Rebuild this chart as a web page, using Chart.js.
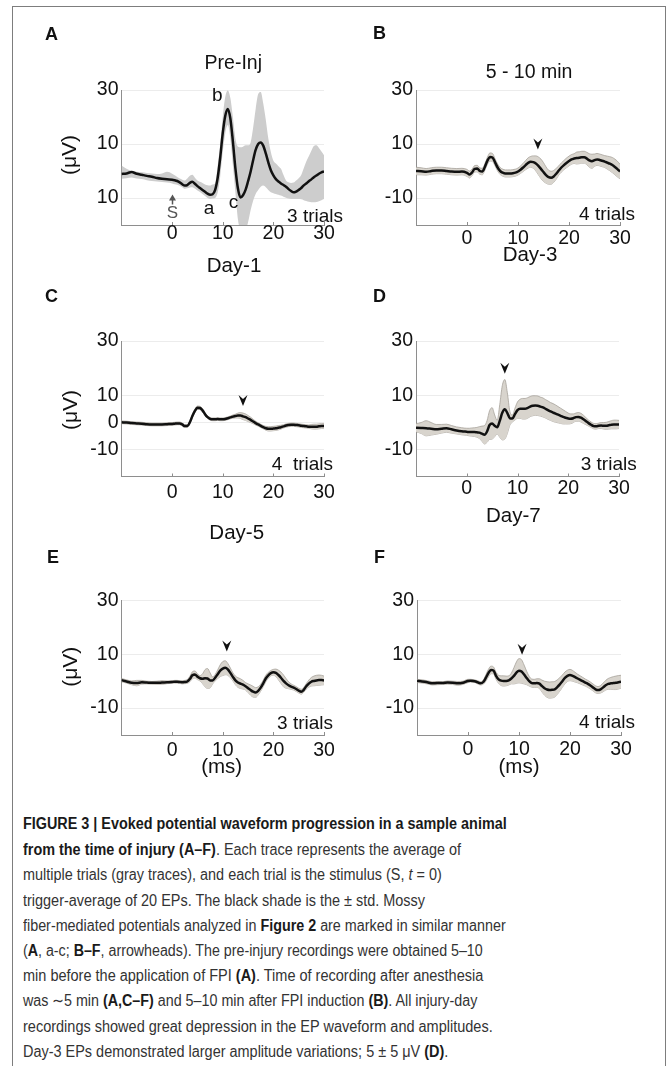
<!DOCTYPE html>
<html>
<head>
<meta charset="utf-8">
<script src="https://cdn.jsdelivr.net/npm/chart.js"></script>
<style>
body{margin:0;background:#fff;width:671px;height:1066px;overflow:hidden;position:relative}
#frame{position:absolute;left:12px;top:6px;width:654px;height:1075px;border:1.5px solid #7d7d7d;box-sizing:border-box}
canvas{position:absolute}
.cap{position:absolute;left:23px;white-space:nowrap;font-family:"Liberation Sans",Arial,sans-serif;font-size:16px;line-height:25px;color:#333;transform-origin:0 50%}
.cap b{color:#1a1a1a}
</style>
</head>
<body>
<div id="frame"></div>
<canvas id="cA"></canvas><canvas id="cB"></canvas>
<canvas id="cC"></canvas><canvas id="cD"></canvas>
<canvas id="cE"></canvas><canvas id="cF"></canvas>

<div class="cap" style="top:811px"><b>FIGURE 3 | Evoked potential waveform progression in a sample animal</b></div>
<div class="cap" style="top:837px"><b>from the time of injury (A–F)</b>. Each trace represents the average of</div>
<div class="cap" style="top:862px">multiple trials (gray traces), and each trial is the stimulus (S, <i>t</i> = 0)</div>
<div class="cap" style="top:888px">trigger-average of 20 EPs. The black shade is the ± std. Mossy</div>
<div class="cap" style="top:913px">fiber-mediated potentials analyzed in <b>Figure 2</b> are marked in similar manner</div>
<div class="cap" style="top:938px">(<b>A</b>, a-c; <b>B–F</b>, arrowheads). The pre-injury recordings were obtained 5–10</div>
<div class="cap" style="top:963px">min before the application of FPI <b>(A)</b>. Time of recording after anesthesia</div>
<div class="cap" style="top:988px">was ∼5 min <b>(A,C–F)</b> and 5–10 min after FPI induction <b>(B)</b>. All injury-day</div>
<div class="cap" style="top:1014px">recordings showed great depression in the EP waveform and amplitudes.</div>
<div class="cap" style="top:1039px">Day-3 EPs demonstrated larger amplitude variations; 5 ± 5 μV <b>(D)</b>.</div>

<script>
// time axis (ms), shared by all six traces
const times = [-10,-9,-8,-7,-6,-5,-4,-3,-2,-1,0,0.5,1,1.5,2,2.5,3,3.5,4,4.5,5,5.5,6,6.5,7,7.5,8,8.5,9,9.5,10,10.5,11,11.5,12,12.5,13,13.5,14,14.5,15,15.5,16,16.5,17,17.5,18,18.5,19,19.5,20,20.5,21,21.5,22,22.5,23,23.5,24,24.5,25,25.5,26,26.5,27,27.5,28,28.5,29,29.5,30];

// A: Pre-Inj, Day-1 (mean with upper / lower edge of the shade)
const meanA = [-1.1,-0.9,-0.4,-1.0,-1.4,-1.8,-2.1,-2.6,-2.9,-3.1,-3.2,
  -3.4,-3.7,-4.2,-4.9,-5.4,-5.2,-4.4,-4.0,-4.7,-5.6,-6.3,-7.0,-7.7,-8.4,-8.8,-8.6,
  -7.0,-2.5,5.0,14.0,20.5,23.0,19.5,11.0,1.0,-6.5,-9.8,
  -9.0,-7.0,-3.8,-0.3,4.0,7.8,10.0,10.6,9.4,6.5,3.2,0.3,
  -1.6,-3.0,-3.9,-4.6,-5.2,-5.8,-6.7,-7.4,-7.9,-7.6,-7.0,-6.3,-5.3,-4.6,-3.8,-3.1,-2.3,-1.7,-1.0,-0.5,-0.2];
const hiA = [2.0,0.8,0.0,-0.3,-0.5,-0.7,-0.9,-1.1,-0.9,-0.3,-1.0,
  -1.6,-2.2,-2.8,-3.2,-3.5,-2.8,-1.8,-1.4,-2.5,-3.5,-4.0,-4.4,-5.0,-5.3,-5.4,-5.0,
  -4.5,2.0,10.0,20.0,27.5,29.8,27.0,20.0,12.0,9.0,8.8,
  9.0,9.5,9.5,10.5,16.0,23.0,28.5,29.3,25.0,19.0,12.0,7.0,
  3.8,2.8,1.8,0.8,-1.5,-3.5,-4.2,-4.4,-4.3,-3.5,-2.7,-1.5,1.0,3.5,5.5,7.5,9.3,9.5,8.5,7.2,5.8];
const loA = [-2.9,-2.7,-2.4,-2.8,-3.0,-3.4,-3.7,-3.9,-4.1,-4.3,-4.6,
  -4.9,-5.1,-5.5,-6.0,-6.6,-6.4,-6.1,-6.0,-6.5,-7.2,-7.8,-8.5,-9.3,-10.0,-10.4,-10.2,
  -10.0,-8.0,-2.0,7.0,14.0,17.0,12.0,2.0,-8.0,-18.0,-22.0,
  -23.0,-22.0,-19.0,-14.5,-11.0,-8.5,-7.0,-5.8,-5.4,-6.0,-7.0,-7.9,
  -8.2,-8.5,-8.8,-9.1,-9.5,-9.9,-10.2,-10.4,-10.4,-10.4,-10.4,-10.5,-10.8,-11.1,-11.4,-11.6,-11.6,-11.5,-11.2,-10.8,-10.4];

// B-F: mean and std
const meanB = [0.0,-0.1,-0.3,0.0,0.2,0.2,0.0,-0.2,-0.3,-0.2,-0.7,
  -1.3,-0.5,0.8,0.9,0.0,-0.2,1.5,3.8,5.2,5.0,3.2,1.3,0.0,-0.6,-0.9,-0.9,
  -0.9,-0.8,-0.6,-0.2,0.5,1.3,2.2,3.0,3.4,3.3,2.8,
  1.9,0.8,-0.4,-1.5,-2.3,-2.5,-2.0,-1.0,0.2,1.3,2.2,3.0,
  3.7,4.3,4.6,4.8,4.9,5.1,5.1,4.6,3.9,3.6,4.0,4.3,4.1,3.8,3.5,3.1,2.7,2.2,1.5,0.7,-0.2];
const sdB = [1.4,1.3,1.2,1.2,1.2,1.2,1.2,1.2,1.2,1.2,1.3,
  1.3,1.2,1.2,1.2,1.2,1.2,1.2,1.3,1.5,1.5,1.3,1.3,1.3,1.3,1.3,1.3,
  1.3,1.3,1.3,1.3,1.4,1.5,1.7,1.9,2.0,2.3,2.8,
  3.3,3.6,3.5,3.0,2.6,2.4,2.2,2.0,1.7,1.7,1.7,1.8,
  1.8,1.8,1.8,2.2,2.2,2.2,2.2,2.3,2.5,2.6,2.3,2.2,2.2,2.2,2.2,2.4,2.6,2.8,2.9,2.9,2.7];

const meanC = [0.0,-0.1,-0.3,-0.4,-0.5,-0.7,-0.8,-0.8,-0.8,-0.7,-0.6,
  -0.5,-0.4,-0.4,-0.8,-1.4,-1.4,0.0,2.3,4.2,5.4,5.3,4.4,3.0,1.9,1.3,1.1,
  1.1,1.2,1.1,1.1,1.2,1.5,1.8,2.1,2.3,2.5,2.5,
  2.2,1.9,1.4,0.9,0.3,-0.3,-0.8,-1.3,-1.8,-2.2,-2.4,-2.4,
  -2.3,-2.2,-2.0,-1.8,-1.5,-1.2,-1.0,-0.9,-0.9,-1.0,-1.1,-1.3,-1.4,-1.5,-1.6,-1.6,-1.6,-1.6,-1.5,-1.4,-1.4];
const sdC = [0.5,0.5,0.5,0.5,0.5,0.5,0.5,0.5,0.5,0.5,0.5,
  0.5,0.5,0.5,0.5,0.5,0.5,0.6,0.6,0.6,0.6,0.6,0.6,0.5,0.5,0.5,0.5,
  0.5,0.5,0.5,0.5,0.5,0.5,0.5,0.6,0.7,0.9,1.1,
  1.2,1.2,1.1,1.0,0.8,0.7,0.6,0.6,0.6,0.7,0.8,0.8,
  0.8,0.8,0.8,0.7,0.6,0.6,0.6,0.6,0.6,0.6,0.6,0.6,0.6,0.6,0.6,0.8,0.9,0.9,0.9,0.9,0.9];

const meanD = [-2.0,-2.1,-2.2,-2.4,-2.6,-2.4,-2.2,-2.6,-3.0,-3.3,-3.5,
  -3.6,-3.6,-3.6,-3.7,-3.8,-4.2,-4.6,-3.4,-1.0,-0.4,-1.3,-1.8,0.5,3.5,4.8,3.4,
  1.5,1.4,3.0,4.5,5.0,5.0,5.0,5.3,5.8,6.1,6.2,
  6.1,5.8,5.5,5.0,4.5,4.0,3.6,3.2,2.8,2.4,2.0,1.7,
  1.4,1.3,1.5,1.9,2.0,1.7,1.1,0.4,-0.3,-0.9,-1.4,-1.5,-1.3,-1.2,-1.3,-1.3,-1.1,-0.9,-0.8,-0.8,-0.8];
const sdD = [1.5,2.0,2.8,2.3,1.8,1.6,1.5,1.4,1.3,1.3,1.3,
  1.4,1.5,1.6,1.8,2.2,2.8,3.4,4.0,5.3,5.8,4.0,2.5,6.0,10.0,11.0,7.5,
  2.5,1.3,2.2,3.0,3.5,3.8,3.8,3.8,3.7,3.7,3.6,
  3.6,3.5,3.5,3.4,3.4,3.3,3.3,3.2,3.0,2.8,2.6,2.3,
  2.0,1.8,1.6,1.5,1.6,1.6,1.5,1.3,1.1,1.0,1.0,1.0,1.0,1.1,1.2,1.3,1.4,1.5,1.6,1.6,1.5];

const meanE = [0.4,-0.1,-0.6,-0.7,-0.4,-0.5,-0.6,-0.6,-0.5,-0.4,-0.3,
  -0.2,-0.2,-0.3,-0.4,-0.3,-0.1,0.8,2.2,2.5,1.7,1.1,0.9,1.1,1.0,0.3,0.3,
  1.3,2.6,3.9,4.7,5.0,4.4,3.1,1.6,0.3,-0.5,-0.9,
  -1.3,-1.9,-2.6,-3.3,-3.9,-4.2,-3.6,-2.4,-0.8,1.0,2.2,3.0,
  3.3,3.1,2.3,1.3,0.1,-0.8,-1.5,-2.0,-2.4,-2.9,-3.5,-3.9,-3.2,-1.9,-0.9,-0.2,0.1,0.3,0.4,0.4,0.3];
const sdE = [0.6,0.6,0.7,1.0,0.7,0.5,0.5,0.6,0.7,0.5,0.5,
  0.5,0.5,0.5,0.6,0.6,0.7,1.0,1.3,1.3,1.1,1.0,1.8,3.2,3.7,2.8,1.3,
  1.2,1.6,2.2,2.6,2.6,2.2,1.8,1.5,1.6,1.8,1.8,
  1.6,1.4,1.6,1.9,2.0,1.8,1.5,1.3,1.2,1.2,1.1,1.0,
  1.1,1.4,1.8,2.1,2.2,1.8,1.3,1.0,0.9,0.9,0.9,0.9,0.9,1.0,1.3,1.6,1.8,1.9,1.9,1.8,1.6];

const meanF = [0.1,-0.1,-0.4,-0.8,-0.7,-0.7,-0.5,-0.6,-0.8,-0.6,0.1,
  0.2,0.1,-0.1,-0.5,-0.8,-0.3,1.2,3.0,4.2,4.0,2.0,0.7,0.2,0.1,0.1,0.3,
  1.0,2.0,3.2,3.9,3.6,2.5,1.2,0.0,-0.7,-0.8,-0.7,
  -0.9,-1.8,-2.6,-3.1,-3.3,-3.2,-3.0,-2.2,-1.2,0.0,1.2,2.0,
  2.3,2.0,1.5,1.0,0.5,0.0,-0.5,-1.0,-1.6,-2.3,-3.0,-3.3,-3.0,-2.3,-1.5,-1.0,-0.8,-0.7,-0.6,-0.4,-0.2];
const sdF = [0.6,0.6,0.6,0.6,0.6,0.5,0.6,0.6,0.7,0.6,0.6,
  0.5,0.5,0.5,0.6,0.6,0.8,1.2,1.4,1.4,1.3,1.3,1.5,1.8,1.9,1.8,1.7,
  2.0,3.0,4.0,4.5,4.4,3.5,2.5,1.8,1.5,1.5,1.6,
  1.8,2.2,2.6,2.9,3.0,3.0,2.9,2.7,2.5,2.3,2.2,2.1,
  2.1,2.0,1.8,1.6,1.5,1.4,1.3,1.3,1.3,1.3,1.3,1.3,1.4,1.6,1.8,2.0,2.2,2.4,2.5,2.5,2.4];

// ticks
const xTicks = [0, 10, 20, 30];
const yTicks = [-10, 10, 30];
const yTicksC = [-10, 0, 10, 30];
const yLabelsA = ['10', '10', '30'];   // as printed in panel A
const yLabels = ['-10', '10', '30'];
const yLabelsC = ['-10', '0', '10', '30'];

// markers: arrowhead tips for B..F (ms, µV), a-b-c and stimulus in A
const arrowX = [13.9, 14.0, 7.5, 10.8, 10.6];
const arrowY = [8.0, 6.0, 17.9, 11.0, 9.8];
const abcText = ['a', 'b', 'c'];
const abcX = [7.3, 8.9, 12.1];
const abcY = [-14.0, 28.0, -11.6];
const stimX = 0, stimTip = -8.7, stimTail = -12.4, stimLabelY = -15.8;
const trialsText = ['3 trials', '4 trials', '4  trials', '3 trials', '3 trials', '4 trials'];

const fam = '"Liberation Sans", Arial, sans-serif';
const axisColor = '#8e8e8e';
const gridColor = '#ececec';

const panels = [
  {id:'A', box:[14,20,338,262], plot:[121.5,90,324,225], mean:meanA, hi:hiA, lo:loA, shade:'#cdcdcd', edge:'rgba(0,0,0,0)',
   yTicks:yTicks, yText:yLabelsA, xPad:-1, letter:[45,35], title:['Pre-Inj',233.3,63.3], xlab:['Day-1',234,266.7], ylab:[70,155], trials:[343,216.7]},
  {id:'B', box:[352,20,310,262], plot:[416,90,620,225], mean:meanB, sd:sdB, shade:'#d8d4cd', edge:'#a7a29a',
   yTicks:yTicks, yText:yLabels, xPad:3.8, letter:[373,34], title:['5 - 10 min',529,72.7], xlab:['Day-3',530,255.7], trials:[635,214.3]},
  {id:'C', box:[14,282,338,263], plot:[121.5,341,324,476.5], mean:meanC, sd:sdC, shade:'#d8d4cd', edge:'#a7a29a',
   yTicks:yTicksC, yText:yLabelsC, xPad:6.7, letter:[45,297.5], xlab:['Day-5',236.7,533], ylab:[71.7,410], trials:[333,464.3]},
  {id:'D', box:[352,282,310,263], plot:[416,341,619,476.5], mean:meanD, sd:sdD, shade:'#d8d4cd', edge:'#a7a29a',
   yTicks:yTicks, yText:yLabels, xPad:2.3, letter:[373,297], xlab:['Day-7',513.3,516], trials:[636.7,464.3]},
  {id:'E', box:[14,545,338,240], plot:[121.5,600.5,324,735], mean:meanE, sd:sdE, shade:'#d8d4cd', edge:'#a7a29a',
   yTicks:yTicks, yText:yLabels, xPad:5.5, letter:[47,558.5], xlab:['(ms)',221.7,767], ylab:[71.7,666.7], trials:[333,724]},
  {id:'F', box:[352,545,310,240], plot:[417,600.5,621,735], mean:meanF, sd:sdF, shade:'#d8d4cd', edge:'#a7a29a',
   yTicks:yTicks, yText:yLabels, xPad:4.8, letter:[374,558.5], xlab:['(ms)',519,767], trials:[635,722.7]}
];

function decor(p, k) {
  return {
    id: 'decor' + p.id,
    afterDraw(chart) {
      const ctx = chart.ctx, xs = chart.scales.x, ys = chart.scales.y, a = chart.chartArea;
      const ox = p.box[0], oy = p.box[1];
      ctx.save();
      // small inward ticks on the time axis
      ctx.strokeStyle = axisColor; ctx.lineWidth = 1;
      xTicks.forEach(v => {
        const px = Math.round(xs.getPixelForValue(v)) + 0.5;
        ctx.beginPath(); ctx.moveTo(px, a.bottom); ctx.lineTo(px, a.bottom - 3); ctx.stroke();
      });
      ctx.fillStyle = '#111';
      ctx.textBaseline = 'middle';
      ctx.font = 'bold 18px ' + fam;
      ctx.textAlign = 'left';
      ctx.fillText(p.id, p.letter[0] - ox, p.letter[1] - oy);
      ctx.font = '19.5px ' + fam;
      ctx.textAlign = 'center';
      if (p.title) ctx.fillText(p.title[0], p.title[1] - ox, p.title[2] - oy);
      ctx.font = '20.5px ' + fam;
      ctx.fillText(p.xlab[0], p.xlab[1] - ox, p.xlab[2] - oy);
      ctx.font = '19px ' + fam;
      ctx.textAlign = 'right';
      ctx.fillText(trialsText[k], p.trials[0] - ox, p.trials[1] - oy);
      if (p.ylab) {
        ctx.save();
        ctx.font = '21px ' + fam;
        ctx.translate(p.ylab[0] - ox, p.ylab[1] - oy);
        ctx.rotate(-Math.PI / 2);
        ctx.textAlign = 'center';
        ctx.fillText('(μV)', 0, 0);
        ctx.restore();
      }
      if (k === 0) {
        ctx.textAlign = 'center';
        abcText.forEach((t, i) => ctx.fillText(t, xs.getPixelForValue(abcX[i]), ys.getPixelForValue(abcY[i])));
        // stimulus arrow
        const sx = Math.round(xs.getPixelForValue(stimX)) + 0.5;
        const tip = ys.getPixelForValue(stimTip), tail = ys.getPixelForValue(stimTail);
        ctx.strokeStyle = '#555'; ctx.fillStyle = '#555'; ctx.lineWidth = 1.5;
        ctx.beginPath(); ctx.moveTo(sx, tail); ctx.lineTo(sx, tip + 3); ctx.stroke();
        ctx.beginPath(); ctx.moveTo(sx, tip); ctx.lineTo(sx - 3.5, tip + 6); ctx.lineTo(sx + 3.5, tip + 6); ctx.closePath(); ctx.fill();
        ctx.font = '17px ' + fam;
        ctx.fillText('S', sx, ys.getPixelForValue(stimLabelY));
      } else {
        const px = xs.getPixelForValue(arrowX[k - 1]), py = ys.getPixelForValue(arrowY[k - 1]);
        ctx.fillStyle = '#111';
        ctx.beginPath();
        ctx.moveTo(px, py); ctx.lineTo(px - 4.5, py - 11); ctx.lineTo(px, py - 7); ctx.lineTo(px + 4.5, py - 11);
        ctx.closePath(); ctx.fill();
      }
      ctx.restore();
    }
  };
}

function makeChart(p, k) {
  const cv = document.getElementById('c' + p.id);
  const [bx, by, bw, bh] = p.box;
  const [pl, pt, pr, pb] = p.plot;
  cv.width = bw; cv.height = bh;
  cv.style.left = bx + 'px'; cv.style.top = by + 'px';
  const hi = p.hi || p.mean.map((v, i) => v + p.sd[i]);
  const lo = p.lo || p.mean.map((v, i) => v - p.sd[i]);
  const pts = arr => times.map((t, i) => ({x: t, y: arr[i]}));
  new Chart(cv, {
    type: 'line',
    data: {
      datasets: [
        {data: pts(p.mean), borderColor: '#111', borderWidth: 2.5, fill: false},
        {data: pts(hi), borderColor: p.edge, borderWidth: 0.8, backgroundColor: p.shade, fill: '+1'},
        {data: pts(lo), borderColor: p.edge, borderWidth: 0.8, fill: false}
      ]
    },
    options: {
      responsive: false,
      animation: false,
      devicePixelRatio: 1,
      layout: {padding: {left: 0, top: pt - by, right: bx + bw - pr, bottom: 0}},
      elements: {point: {radius: 0}, line: {cubicInterpolationMode: 'monotone'}},
      plugins: {legend: {display: false}, tooltip: {enabled: false}},
      scales: {
        x: {
          type: 'linear', min: -10, max: 30,
          afterBuildTicks: s => { s.ticks = xTicks.map(v => ({value: v})); },
          afterFit: s => { s.height = by + bh - pb; },
          grid: {display: false, drawTicks: false},
          border: {color: axisColor, width: 1},
          ticks: {padding: p.xPad, color: '#111', autoSkip: false, maxRotation: 0,
                  font: {family: fam, size: 19.5, lineHeight: 1}}
        },
        y: {
          min: -20, max: 30,
          afterBuildTicks: s => { s.ticks = p.yTicks.map(v => ({value: v})); },
          afterFit: s => { s.width = pl - bx; },
          grid: {color: gridColor, drawTicks: false},
          border: {color: axisColor, width: 1},
          ticks: {padding: 3, color: '#111', autoSkip: false,
                  font: {family: fam, size: 19.5, lineHeight: 1},
                  callback: (v, i) => p.yText[i]}
        }
      }
    },
    plugins: [decor(p, k)]
  });
}

panels.forEach(makeChart);

// fit caption lines to the printed line lengths
const capRight = [506.7, 461, 441.7, 425, 505.7, 482.7, 483.3, 477.3, 492.7, 448.3];
document.querySelectorAll('.cap').forEach((el, i) => {
  const w = el.getBoundingClientRect().width;
  el.style.transform = 'scaleX(' + ((capRight[i] - 23) / w).toFixed(4) + ')';
});
</script>
</body>
</html>
